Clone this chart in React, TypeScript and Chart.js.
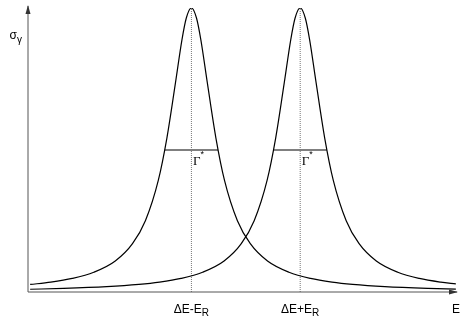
import React, { useEffect, useRef } from "react";
import { Chart, registerables } from "chart.js";

Chart.register(...registerables);

// Peak positions (data units along E)
const peakLow = 38.0;   // ΔE - E_R
const peakHigh = 63.3;  // ΔE + E_R
const halfWidth = 6.2;  // Γ / 2
const halfMax = 50;

// Curve 1 (peak at ΔE-E_R)
const curve1X = [0.5, 5.3, 10.3, 15.3, 20.3, 24.3, 27.3, 30.3, 32.3, 34.3, 35.8, 36.8, 38.0, 39.2, 40.2, 41.7, 43.7, 45.7, 48.7, 51.7, 55.7, 60.7, 65.7, 70.7, 75.5, 83, 93, 99.5];
const curve1Y = [2.66, 3.47, 4.77, 6.94, 10.9, 17.0, 25.1, 39.3, 54.2, 73.7, 88.8, 96.4, 100, 96.4, 88.8, 73.7, 54.2, 39.3, 25.1, 17.0, 10.9, 6.94, 4.77, 3.47, 2.66, 1.86, 1.25, 1.0];

// Curve 2 (peak at ΔE+E_R)
const curve2X = [0.5, 8.3, 18.3, 25.8, 30.6, 35.6, 40.6, 45.6, 49.6, 52.6, 55.6, 57.6, 59.6, 61.1, 62.1, 63.3, 64.5, 65.5, 67.0, 69.0, 71.0, 74.0, 77.0, 81.0, 86.0, 91.0, 96.0, 99.5];
const curve2Y = [0.97, 1.25, 1.86, 2.66, 3.47, 4.77, 6.94, 10.9, 17.0, 25.1, 39.3, 54.2, 73.7, 88.8, 96.4, 100, 96.4, 88.8, 73.7, 54.2, 39.3, 25.1, 17.0, 10.9, 6.94, 4.77, 3.47, 2.85];

const FONT = "'Liberation Sans', Arial, Helvetica, sans-serif";
const SERIF = "'Liberation Serif', 'Times New Roman', serif";

const zip = (xs: number[], ys: number[]) => xs.map((x, i) => ({ x, y: ys[i] }));

const annotPlugin = {
  id: "annot",
  afterDraw(chart: any) {
    const { ctx, chartArea, scales } = chart;
    const xs = scales.x;
    const ys = scales.y;
    const x0 = chartArea.left;
    const y0 = chartArea.bottom;
    ctx.save();
    // axes
    ctx.strokeStyle = "#555";
    ctx.fillStyle = "#333";
    ctx.lineWidth = 1;
    ctx.beginPath();
    ctx.moveTo(x0, y0);
    ctx.lineTo(x0, 6);
    ctx.moveTo(x0, y0);
    ctx.lineTo(457, y0);
    ctx.stroke();
    // arrowheads
    ctx.beginPath();
    ctx.moveTo(x0, 5);
    ctx.lineTo(x0 - 2.5, 14);
    ctx.lineTo(x0 + 2.5, 14);
    ctx.closePath();
    ctx.fill();
    ctx.beginPath();
    ctx.moveTo(458, y0);
    ctx.lineTo(449, y0 - 2.5);
    ctx.lineTo(449, y0 + 2.5);
    ctx.closePath();
    ctx.fill();

    ctx.fillStyle = "#000";
    ctx.textBaseline = "alphabetic";
    // x labels with subscript
    const drawSub = (main: string, sub: string, cx: number) => {
      ctx.font = `12px ${FONT}`;
      const w1 = ctx.measureText(main).width;
      ctx.font = `10px ${FONT}`;
      const w2 = ctx.measureText(sub).width;
      const left = cx - (w1 + w2) / 2;
      ctx.font = `12px ${FONT}`;
      ctx.textAlign = "left";
      ctx.fillText(main, left, 313);
      ctx.font = `10px ${FONT}`;
      ctx.fillText(sub, left + w1, 316);
    };
    drawSub("ΔE-E", "R", xs.getPixelForValue(peakLow));
    drawSub("ΔE+E", "R", xs.getPixelForValue(peakHigh));
    ctx.font = `12px ${FONT}`;
    ctx.textAlign = "left";
    ctx.fillText("E", 452, 313);

    // y label σ_γ
    ctx.font = `12px ${FONT}`;
    ctx.fillText("σ", 9.5, 39);
    ctx.font = `10px ${FONT}`;
    ctx.fillText("γ", 17, 43);

    // Γ* labels
    const yG = ys.getPixelForValue(halfMax);
    [peakLow, peakHigh].forEach((p) => {
      const px = xs.getPixelForValue(p);
      ctx.font = `13px ${SERIF}`;
      ctx.fillText("Γ", px + 1.5, yG + 15);
      ctx.font = `9px ${FONT}`;
      ctx.fillText("*", px + 9, yG + 7);
    });
    ctx.restore();
  },
};

export default function App() {
  const ref = useRef<HTMLCanvasElement>(null);
  useEffect(() => {
    if (!ref.current) return;
    const chart = new Chart(ref.current, {
      type: "line",
      data: {
        datasets: [
          {
            data: zip(curve1X, curve1Y),
            borderColor: "#000",
            borderWidth: 1.2,
            pointRadius: 0,
            cubicInterpolationMode: "monotone",
          },
          {
            data: zip(curve2X, curve2Y),
            borderColor: "#000",
            borderWidth: 1.2,
            pointRadius: 0,
            cubicInterpolationMode: "monotone",
          },
          {
            data: [{ x: peakLow, y: 0 }, { x: peakLow, y: 100 }],
            borderColor: "#777",
            borderWidth: 1,
            borderDash: [1, 1],
            pointRadius: 0,
          },
          {
            data: [{ x: peakHigh, y: 0 }, { x: peakHigh, y: 100 }],
            borderColor: "#777",
            borderWidth: 1,
            borderDash: [1, 1],
            pointRadius: 0,
          },
          {
            data: [{ x: peakLow - halfWidth, y: halfMax }, { x: peakLow + halfWidth, y: halfMax }],
            borderColor: "#000",
            borderWidth: 1.2,
            pointRadius: 0,
          },
          {
            data: [{ x: peakHigh - halfWidth, y: halfMax }, { x: peakHigh + halfWidth, y: halfMax }],
            borderColor: "#000",
            borderWidth: 1.2,
            pointRadius: 0,
          },
        ],
      },
      options: {
        animation: false,
        responsive: false,
        maintainAspectRatio: false,
        layout: { padding: { left: 28, right: 2, top: 8, bottom: 28 } },
        plugins: { legend: { display: false }, tooltip: { enabled: false } },
        scales: {
          x: { type: "linear", min: 0, max: 100, display: false },
          y: { type: "linear", min: 0, max: 100, display: false },
        },
      },
      plugins: [annotPlugin],
    });
    return () => chart.destroy();
  }, []);
  return (
    <div style={{ position: "fixed", left: 0, top: 0, width: 460, height: 320, background: "#fff" }}>
      <canvas ref={ref} width={460} height={320} style={{ display: "block", width: 460, height: 320 }} />
    </div>
  );
}
